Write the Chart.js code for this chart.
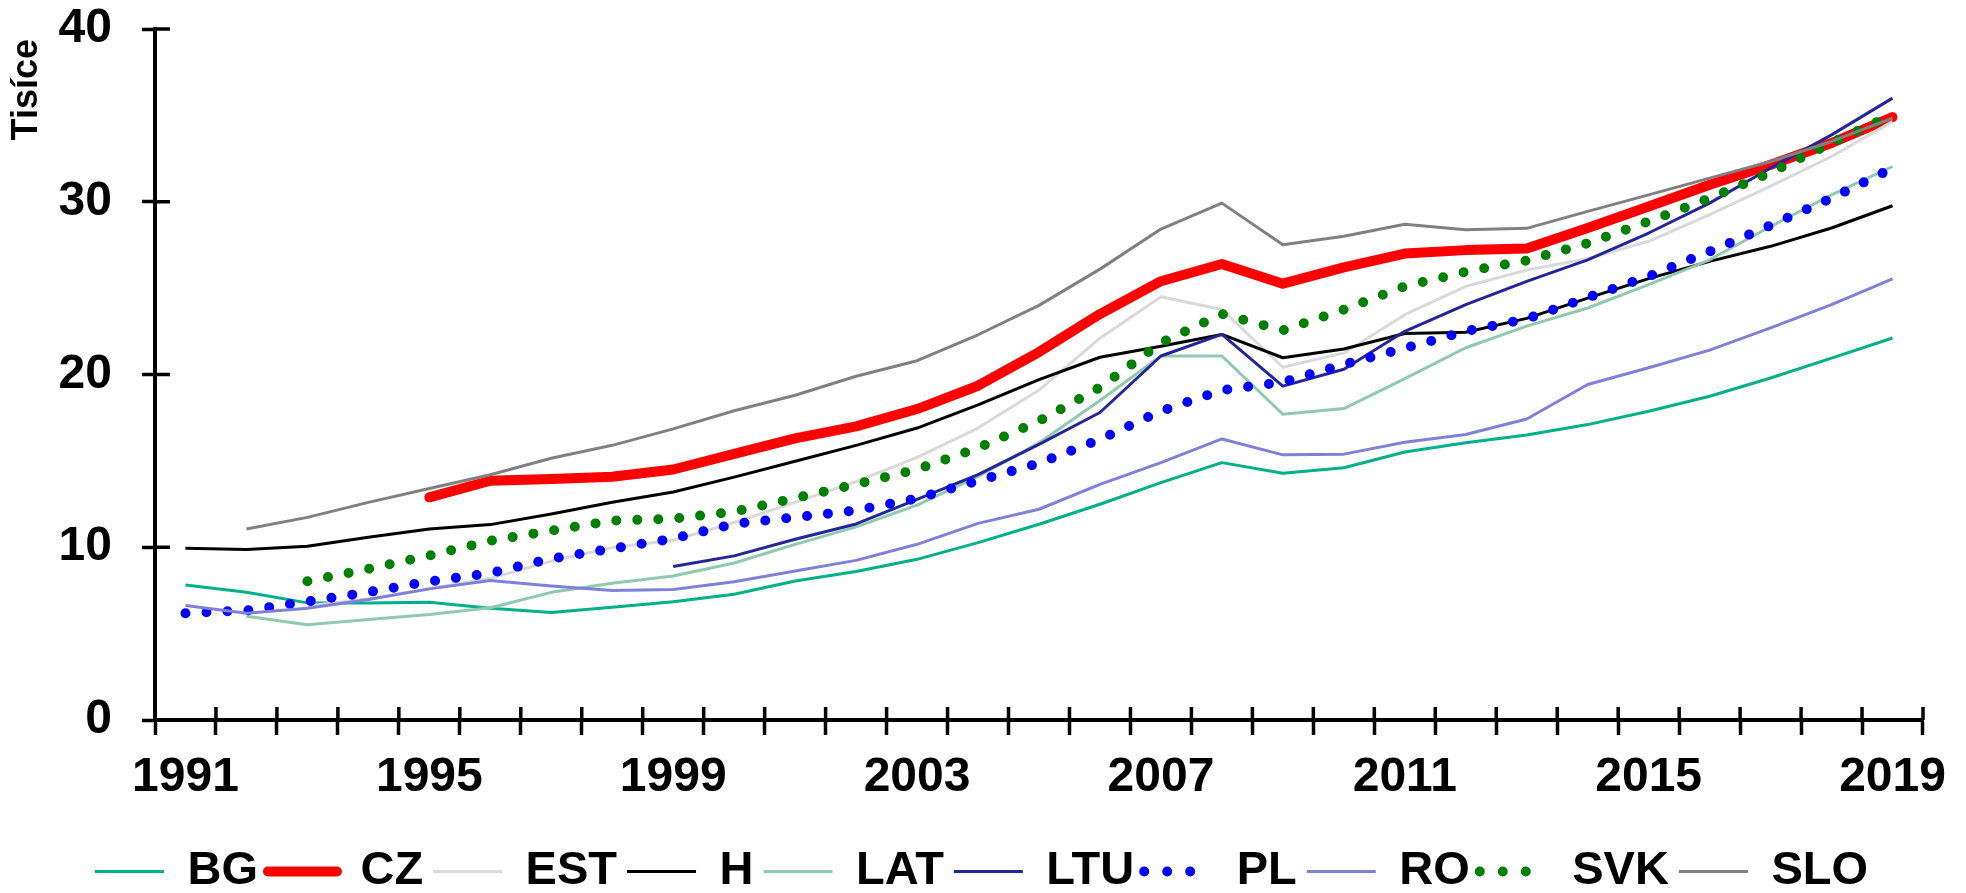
<!DOCTYPE html>
<html lang="cs">

<head>
    <meta charset="UTF-8">
    <title>Tisíce</title>
    <script src="https://cdn.jsdelivr.net/npm/chart.js"></script>
    <style>
        html, body { margin: 0; padding: 0; background: #fff; }
        #wrap { width: 1966px; height: 893px; position: relative; }
    </style>
</head>

<body>
    <div id="wrap"><canvas id="chart"></canvas></div>

    <script>
        // years on the x axis (a label is shown every 4th year)
        const years = ['1991', '1992', '1993', '1994', '1995', '1996', '1997', '1998', '1999', '2000',
            '2001', '2002', '2003', '2004', '2005', '2006', '2007', '2008', '2009', '2010',
            '2011', '2012', '2013', '2014', '2015', '2016', '2017', '2018', '2019'];

        const yTicks = [0, 10, 20, 30, 40];

        // values in thousands
        const bg = [7.82, 7.40, 6.78, 6.78, 6.82, 6.47, 6.22, 6.52, 6.84, 7.28,
            8.05, 8.60, 9.30, 10.27, 11.33, 12.49, 13.74, 14.90, 14.28, 14.60,
            15.51, 16.05, 16.50, 17.10, 17.87, 18.74, 19.80, 20.95, 22.11];
        const cz = [null, null, null, null, 12.89, 13.85, 13.95, 14.08, 14.50, 15.40,
            16.30, 17.00, 18.00, 19.35, 21.30, 23.50, 25.40, 26.40, 25.26, 26.20,
            27.00, 27.20, 27.30, 28.48, 29.73, 30.98, 32.14, 33.40, 34.90];
        const est = [null, null, 6.60, 7.00, 7.60, 8.20, 9.20, 9.98, 10.40, 11.43,
            12.60, 13.80, 15.20, 16.90, 19.10, 22.10, 24.50, 23.76, 20.42, 21.25,
            23.46, 25.10, 26.05, 26.70, 27.71, 29.25, 30.90, 32.62, 34.64];
        const hu = [9.94, 9.87, 10.06, 10.58, 11.06, 11.31, 11.93, 12.60, 13.20, 14.06,
            14.98, 15.90, 16.90, 18.24, 19.70, 21.00, 21.64, 22.32, 20.97, 21.48,
            22.37, 22.45, 23.25, 24.42, 25.55, 26.55, 27.42, 28.48, 29.77];
        const lat = [null, 6.01, 5.51, 5.82, 6.11, 6.50, 7.39, 7.92, 8.34, 9.09,
            10.17, 11.18, 12.44, 14.10, 16.04, 18.50, 21.07, 21.07, 17.70, 18.03,
            19.76, 21.55, 22.80, 23.85, 25.20, 26.64, 28.57, 30.40, 32.04];
        const ltu = [null, null, null, null, null, null, null, null, 8.88, 9.50,
            10.46, 11.35, 12.77, 14.20, 15.96, 17.80, 21.07, 22.32, 19.33, 20.30,
            22.50, 24.04, 25.39, 26.64, 28.19, 29.92, 31.95, 33.87, 36.00];
        const pl = [6.18, 6.34, 6.86, 7.40, 8.02, 8.50, 9.34, 9.92, 10.50, 11.35,
            11.73, 12.13, 12.82, 13.85, 14.86, 16.24, 17.88, 19.09, 19.56, 20.58,
            21.52, 22.50, 23.22, 24.45, 25.68, 27.12, 28.63, 30.21, 31.94];
        const ro = [6.63, 6.18, 6.47, 6.97, 7.59, 8.07, 7.75, 7.49, 7.56, 8.00,
            8.63, 9.24, 10.17, 11.38, 12.20, 13.64, 14.90, 16.27, 15.35, 15.39,
            16.08, 16.53, 17.42, 19.42, 20.39, 21.41, 22.70, 24.05, 25.53];
        const svk = [null, null, 8.03, 8.75, 9.52, 10.37, 10.96, 11.54, 11.65, 12.06,
            12.84, 13.65, 14.51, 15.75, 17.30, 19.25, 21.83, 23.50, 22.56, 23.75,
            25.10, 25.95, 26.60, 27.60, 28.86, 30.20, 31.69, 33.40, 35.03];
        const slo = [null, 11.06, 11.73, 12.60, 13.40, 14.20, 15.15, 15.90, 16.85, 17.90,
            18.80, 19.90, 20.80, 22.30, 24.00, 26.10, 28.42, 29.92, 27.51, 28.00,
            28.70, 28.38, 28.46, 29.44, 30.40, 31.37, 32.33, 33.49, 34.84];

        const seriesNames = ['BG', 'CZ', 'EST', 'H', 'LAT', 'LTU', 'PL', 'RO', 'SVK', 'SLO'];
        const seriesValues = [bg, cz, est, hu, lat, ltu, pl, ro, svk, slo];

        const styles = {
            BG: { color: '#00B088', width: 3 },
            CZ: { color: '#FF0000', width: 10, cap: 'round' },
            EST: { color: '#D9D9D9', width: 3 },
            H: { color: '#000000', width: 3 },
            LAT: { color: '#8FC9B0', width: 3 },
            LTU: { color: '#25259A', width: 3 },
            PL: { color: '#0000FF', width: 10, dotted: true },
            RO: { color: '#8080D8', width: 3 },
            SVK: { color: '#008000', width: 10, dotted: true },
            SLO: { color: '#808080', width: 3 }
        };

        Chart.defaults.font.family = "'Liberation Sans', Arial, sans-serif";
        Chart.defaults.font.weight = 'bold';
        Chart.defaults.color = '#000';

        const datasets = seriesNames.map((name, i) => {
            const s = styles[name];
            return {
                label: name,
                data: seriesValues[i],
                borderColor: s.color,
                backgroundColor: s.color,
                borderWidth: s.width,
                borderDash: s.dotted ? [0, 21] : [],
                borderCapStyle: (s.dotted || s.cap) ? 'round' : 'butt',
                borderJoinStyle: 'round',
                pointRadius: 0,
                tension: 0,
                fill: false,
                // later series sit on top, as in the original
                order: seriesNames.length - i
            };
        });

        // small tick marks that poke into the plot area (Excel "cross" ticks)
        const innerTicks = {
            id: 'innerTicks',
            afterDraw(chart) {
                const { ctx, chartArea } = chart;
                const x = chart.scales.x;
                const y = chart.scales.y;
                ctx.save();
                ctx.strokeStyle = '#000';
                ctx.lineWidth = 3.5;
                ctx.beginPath();
                y.ticks.forEach((t, i) => {
                    const py = y.getPixelForTick(i);
                    ctx.moveTo(chartArea.left, py);
                    ctx.lineTo(chartArea.left + 15, py);
                });
                const n = x.ticks.length;
                for (let i = 0; i <= n; i++) {
                    const px = x.left + i * x.width / n;
                    ctx.moveTo(px, chartArea.bottom);
                    ctx.lineTo(px, chartArea.bottom - 13);
                }
                ctx.stroke();
                ctx.restore();
            }
        };

        const ctx = document.getElementById('chart').getContext('2d');
        const chart = new Chart(ctx, {
            type: 'line',
            data: { labels: years, datasets: datasets },
            plugins: [innerTicks],
            options: {
                responsive: true,
                maintainAspectRatio: false,
                devicePixelRatio: 1,
                animation: false,
                layout: { padding: { left: 40, right: 43, top: 29, bottom: -12 } },
                plugins: {
                    tooltip: { enabled: false },
                    legend: {
                        position: 'bottom',
                        labels: {
                            usePointStyle: true,
                            pointStyleWidth: 69,
                            boxHeight: 10,
                            padding: 10,
                            color: '#000',
                            font: { size: 47, weight: 'bold' },
                            generateLabels: function (chart) {
                                return chart.data.datasets.map((ds, i) => ({
                                    text: ds.label,
                                    strokeStyle: ds.borderColor,
                                    fillStyle: ds.borderColor,
                                    lineWidth: ds.borderWidth,
                                    lineDash: ds.borderDash.length ? [0, 23] : [],
                                    lineCap: ds.borderCapStyle,
                                    pointStyle: 'line',
                                    fontColor: '#000',
                                    hidden: false,
                                    datasetIndex: i
                                }));
                            }
                        }
                    }
                },
                scales: {
                    x: {
                        offset: true,
                        grid: {
                            offset: true,
                            drawOnChartArea: false,
                            drawTicks: true,
                            tickLength: 15,
                            tickWidth: 3.5,
                            tickColor: '#000'
                        },
                        border: { display: true, color: '#000', width: 4 },
                        ticks: {
                            autoSkip: false,
                            maxRotation: 0,
                            padding: 14,
                            color: '#000',
                            font: { size: 48, weight: 'bold' },
                            callback: function (value, index) {
                                return index % 4 === 0 ? years[index] : '';
                            }
                        },
                        afterFit: function (scale) { scale.height = 118; }
                    },
                    y: {
                        min: yTicks[0],
                        max: yTicks[yTicks.length - 1],
                        afterBuildTicks: function (scale) {
                            scale.ticks = yTicks.map(v => ({ value: v }));
                        },
                        grid: {
                            drawOnChartArea: false,
                            drawTicks: true,
                            tickLength: 13,
                            tickWidth: 3.5,
                            tickColor: '#000'
                        },
                        border: { display: true, color: '#000', width: 4 },
                        ticks: {
                            padding: 30,
                            color: '#000',
                            font: { size: 48, weight: 'bold' }
                        },
                        title: {
                            display: true,
                            text: 'Tisíce ',
                            align: 'end',
                            color: '#000',
                            padding: { top: -35, bottom: 0 },
                            font: { size: 36, weight: 'bold' }
                        },
                        afterFit: function (scale) {
                            scale.width = 115;
                            // the label padding would otherwise push the plot down
                            scale.paddingTop = 29;
                            scale.paddingBottom = 29;
                        }
                    }
                }
            }
        });
    </script>
</body>

</html>
